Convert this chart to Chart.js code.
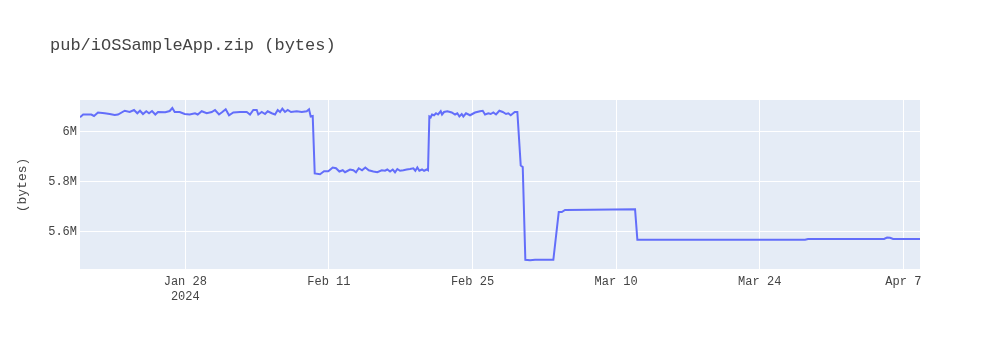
<!DOCTYPE html>
<html>
<head>
<meta charset="utf-8">
<title>pub/iOSSampleApp.zip (bytes)</title>
<script src="https://cdn.jsdelivr.net/npm/chart.js@4/dist/chart.umd.min.js"></script>
<style>
  html, body { margin: 0; padding: 0; background: #fff; }
  #wrap { width: 1000px; height: 350px; position: relative; }
</style>
</head>
<body>
<div id="wrap"><canvas id="sizeChart" width="1000" height="350"></canvas></div>
<script>
const sampleTimes = [
  "2024-01-17 17:36", "2024-01-18 01:00", "2024-01-18 20:00", "2024-01-19 02:24", "2024-01-19 11:42",
  "2024-01-20 03:24", "2024-01-20 15:06", "2024-01-21 02:48", "2024-01-21 10:30", "2024-01-22 02:12",
  "2024-01-22 13:54", "2024-01-23 00:00", "2024-01-23 07:42", "2024-01-23 14:00", "2024-01-23 21:00",
  "2024-01-24 04:42", "2024-01-24 11:06", "2024-01-24 18:06", "2024-01-25 01:48", "2024-01-25 08:06",
  "2024-01-26 01:12", "2024-01-26 11:30", "2024-01-26 17:36", "2024-01-26 23:12", "2024-01-27 10:54",
  "2024-01-27 22:36", "2024-01-28 10:18", "2024-01-28 22:42", "2024-01-29 05:00", "2024-01-29 14:24",
  "2024-01-30 02:06", "2024-01-30 13:48", "2024-01-30 21:30", "2024-01-31 06:54", "2024-01-31 14:36",
  "2024-01-31 22:30", "2024-02-01 06:18", "2024-02-01 16:18", "2024-02-02 08:00", "2024-02-02 23:42",
  "2024-02-03 07:24", "2024-02-03 15:06", "2024-02-03 23:06", "2024-02-04 02:48", "2024-02-04 10:48",
  "2024-02-04 18:30", "2024-02-05 00:48", "2024-02-05 10:12", "2024-02-05 17:54", "2024-02-06 00:12",
  "2024-02-06 05:36", "2024-02-06 11:00", "2024-02-06 17:18", "2024-02-06 23:36", "2024-02-07 07:18",
  "2024-02-07 20:42", "2024-02-08 08:24", "2024-02-08 20:06", "2024-02-09 01:30", "2024-02-09 05:24",
  "2024-02-09 10:06", "2024-02-09 14:48", "2024-02-10 03:12", "2024-02-10 12:36", "2024-02-10 22:36",
  "2024-02-11 08:54", "2024-02-11 16:36", "2024-02-12 00:24", "2024-02-12 08:18", "2024-02-12 13:42",
  "2024-02-13 01:24", "2024-02-13 09:06", "2024-02-13 15:24", "2024-02-13 21:48", "2024-02-14 05:30",
  "2024-02-14 13:12", "2024-02-14 21:12", "2024-02-15 07:54", "2024-02-15 17:18", "2024-02-16 03:36",
  "2024-02-16 11:18", "2024-02-16 16:42", "2024-02-16 23:00", "2024-02-17 05:18", "2024-02-17 10:42",
  "2024-02-17 16:06", "2024-02-17 22:24", "2024-02-18 06:06", "2024-02-18 14:06", "2024-02-18 21:48",
  "2024-02-19 05:30", "2024-02-19 10:12", "2024-02-19 14:54", "2024-02-19 19:36", "2024-02-20 01:54",
  "2024-02-20 06:36", "2024-02-20 12:54", "2024-02-20 15:54", "2024-02-20 19:00", "2024-02-20 22:12",
  "2024-02-21 01:18", "2024-02-21 06:00", "2024-02-21 10:36", "2024-02-21 15:18", "2024-02-21 21:36",
  "2024-02-22 00:42", "2024-02-22 05:24", "2024-02-22 13:06", "2024-02-22 23:24", "2024-02-23 07:06",
  "2024-02-23 12:30", "2024-02-23 17:12", "2024-02-23 22:48", "2024-02-24 02:30", "2024-02-24 08:48",
  "2024-02-24 18:12", "2024-02-25 05:54", "2024-02-25 17:36", "2024-02-25 23:54", "2024-02-26 05:18",
  "2024-02-26 13:00", "2024-02-26 18:36", "2024-02-27 00:42", "2024-02-27 07:00", "2024-02-27 14:48",
  "2024-02-27 22:42", "2024-02-28 06:24", "2024-02-28 11:48", "2024-02-28 17:24", "2024-02-29 02:48",
  "2024-02-29 08:54", "2024-02-29 16:48", "2024-02-29 21:30", "2024-03-01 03:36", "2024-03-01 14:36",
  "2024-03-02 02:18", "2024-03-03 21:06", "2024-03-04 09:48", "2024-03-04 16:48", "2024-03-05 00:30",
  "2024-03-07 11:00", "2024-03-11 20:18", "2024-03-12 01:42", "2024-03-28 10:06", "2024-03-28 17:06",
  "2024-04-05 03:00", "2024-04-05 10:00", "2024-04-05 17:00", "2024-04-06 00:00", "2024-04-08 15:00"
];

const fileSizeMB = [
  6.057, 6.068, 6.068, 6.062, 6.076, 6.073, 6.070, 6.066, 6.068, 6.083,
  6.078, 6.086, 6.073, 6.083, 6.070, 6.081, 6.073, 6.082, 6.068, 6.078,
  6.077, 6.082, 6.094, 6.078, 6.078, 6.070, 6.068, 6.073, 6.068, 6.081,
  6.073, 6.078, 6.086, 6.068, 6.078, 6.089, 6.065, 6.076, 6.078, 6.078,
  6.068, 6.086, 6.086, 6.068, 6.078, 6.070, 6.081, 6.073, 6.068, 6.086,
  6.078, 6.091, 6.078, 6.086, 6.078, 6.081, 6.078, 6.081, 6.089, 6.060,
  6.062, 5.832, 5.829, 5.841, 5.841, 5.856, 5.853, 5.840, 5.845, 5.837,
  5.848, 5.845, 5.837, 5.853, 5.845, 5.856, 5.845, 5.840, 5.837, 5.845,
  5.843, 5.848, 5.840, 5.848, 5.837, 5.850, 5.843, 5.845, 5.848, 5.850,
  5.853, 5.843, 5.856, 5.843, 5.848, 5.843, 5.848, 5.845, 6.060, 6.057,
  6.068, 6.065, 6.073, 6.068, 6.081, 6.068, 6.078, 6.081, 6.076, 6.068,
  6.073, 6.060, 6.070, 6.060, 6.073, 6.065, 6.076, 6.081, 6.083, 6.068,
  6.073, 6.070, 6.076, 6.068, 6.083, 6.078, 6.070, 6.073, 6.065, 6.078,
  6.078, 5.864, 5.858, 5.487, 5.485, 5.487, 5.487, 5.678, 5.678, 5.686,
  5.687, 5.689, 5.567, 5.567, 5.570, 5.570, 5.576, 5.575, 5.570, 5.570
];

const xTickDates = ["2024-01-28 00:00", "2024-02-11 00:00", "2024-02-25 00:00", "2024-03-10 00:00", "2024-03-24 00:00", "2024-04-07 00:00"];
const xTickLabels = [["Jan 28", "2024"], "Feb 11", "Feb 25", "Mar 10", "Mar 24", "Apr 7"];
const yTickValues = [5600000, 5800000, 6000000];
const yTickLabels = ["5.6M", "5.8M", "6M"];

const chartTitle = "pub/iOSSampleApp.zip (bytes)";
const yAxisTitle = "(bytes)";

function toTime(s) {
  return Date.parse(s.replace(" ", "T") + ":00Z");
}

const points = sampleTimes.map((t, i) => ({ x: toTime(t), y: fileSizeMB[i] * 1e6 }));
const tickTimes = xTickDates.map(toTime);

const FONT = "'Liberation Mono', 'Courier New', monospace";
const TEXT = "#444444";

const plotDecor = {
  id: "plotDecor",
  beforeDraw(chart) {
    const { ctx, chartArea } = chart;
    ctx.save();
    ctx.fillStyle = "#E5ECF6";
    ctx.fillRect(chartArea.left, chartArea.top, chartArea.right - chartArea.left, chartArea.bottom - chartArea.top);
    ctx.restore();
  },
  afterDraw(chart) {
    const { ctx } = chart;
    ctx.save();
    ctx.fillStyle = TEXT;
    ctx.font = "17px " + FONT;
    ctx.textBaseline = "middle";
    ctx.textAlign = "left";
    ctx.fillText(chartTitle, 50, 45);

    ctx.font = "13px " + FONT;
    ctx.translate(23, 185);
    ctx.rotate(-Math.PI / 2);
    ctx.textAlign = "center";
    ctx.fillText(yAxisTitle, 0, 0);
    ctx.restore();
  }
};

new Chart(document.getElementById("sizeChart"), {
  type: "line",
  data: {
    datasets: [{
      data: points,
      borderColor: "#636EFA",
      borderWidth: 2,
      pointRadius: 0,
      tension: 0,
      fill: false
    }]
  },
  options: {
    responsive: false,
    animation: false,
    events: [],
    layout: { padding: { top: 100, right: 80, left: 0, bottom: 0 } },
    plugins: { legend: { display: false }, tooltip: { enabled: false } },
    scales: {
      x: {
        type: "linear",
        min: points[0].x,
        max: points[points.length - 1].x,
        afterBuildTicks(scale) { scale.ticks = tickTimes.map(v => ({ value: v })); },
        afterFit(scale) { scale.height = 81; },
        grid: { color: "#FFFFFF", lineWidth: 1, drawTicks: false },
        border: { display: false },
        ticks: {
          autoSkip: false,
          maxRotation: 0,
          padding: 6,
          color: TEXT,
          font: { family: FONT, size: 12 },
          callback: (v, i) => xTickLabels[i]
        }
      },
      y: {
        min: 5450000,
        max: 6126000,
        afterBuildTicks(scale) { scale.ticks = yTickValues.map(v => ({ value: v })); },
        afterFit(scale) { scale.width = 80; },
        grid: { color: "#FFFFFF", lineWidth: 1, drawTicks: false },
        border: { display: false },
        ticks: {
          padding: 3,
          color: TEXT,
          font: { family: FONT, size: 12 },
          callback: (v, i) => yTickLabels[i]
        }
      }
    }
  },
  plugins: [plotDecor]
});
</script>
</body>
</html>
